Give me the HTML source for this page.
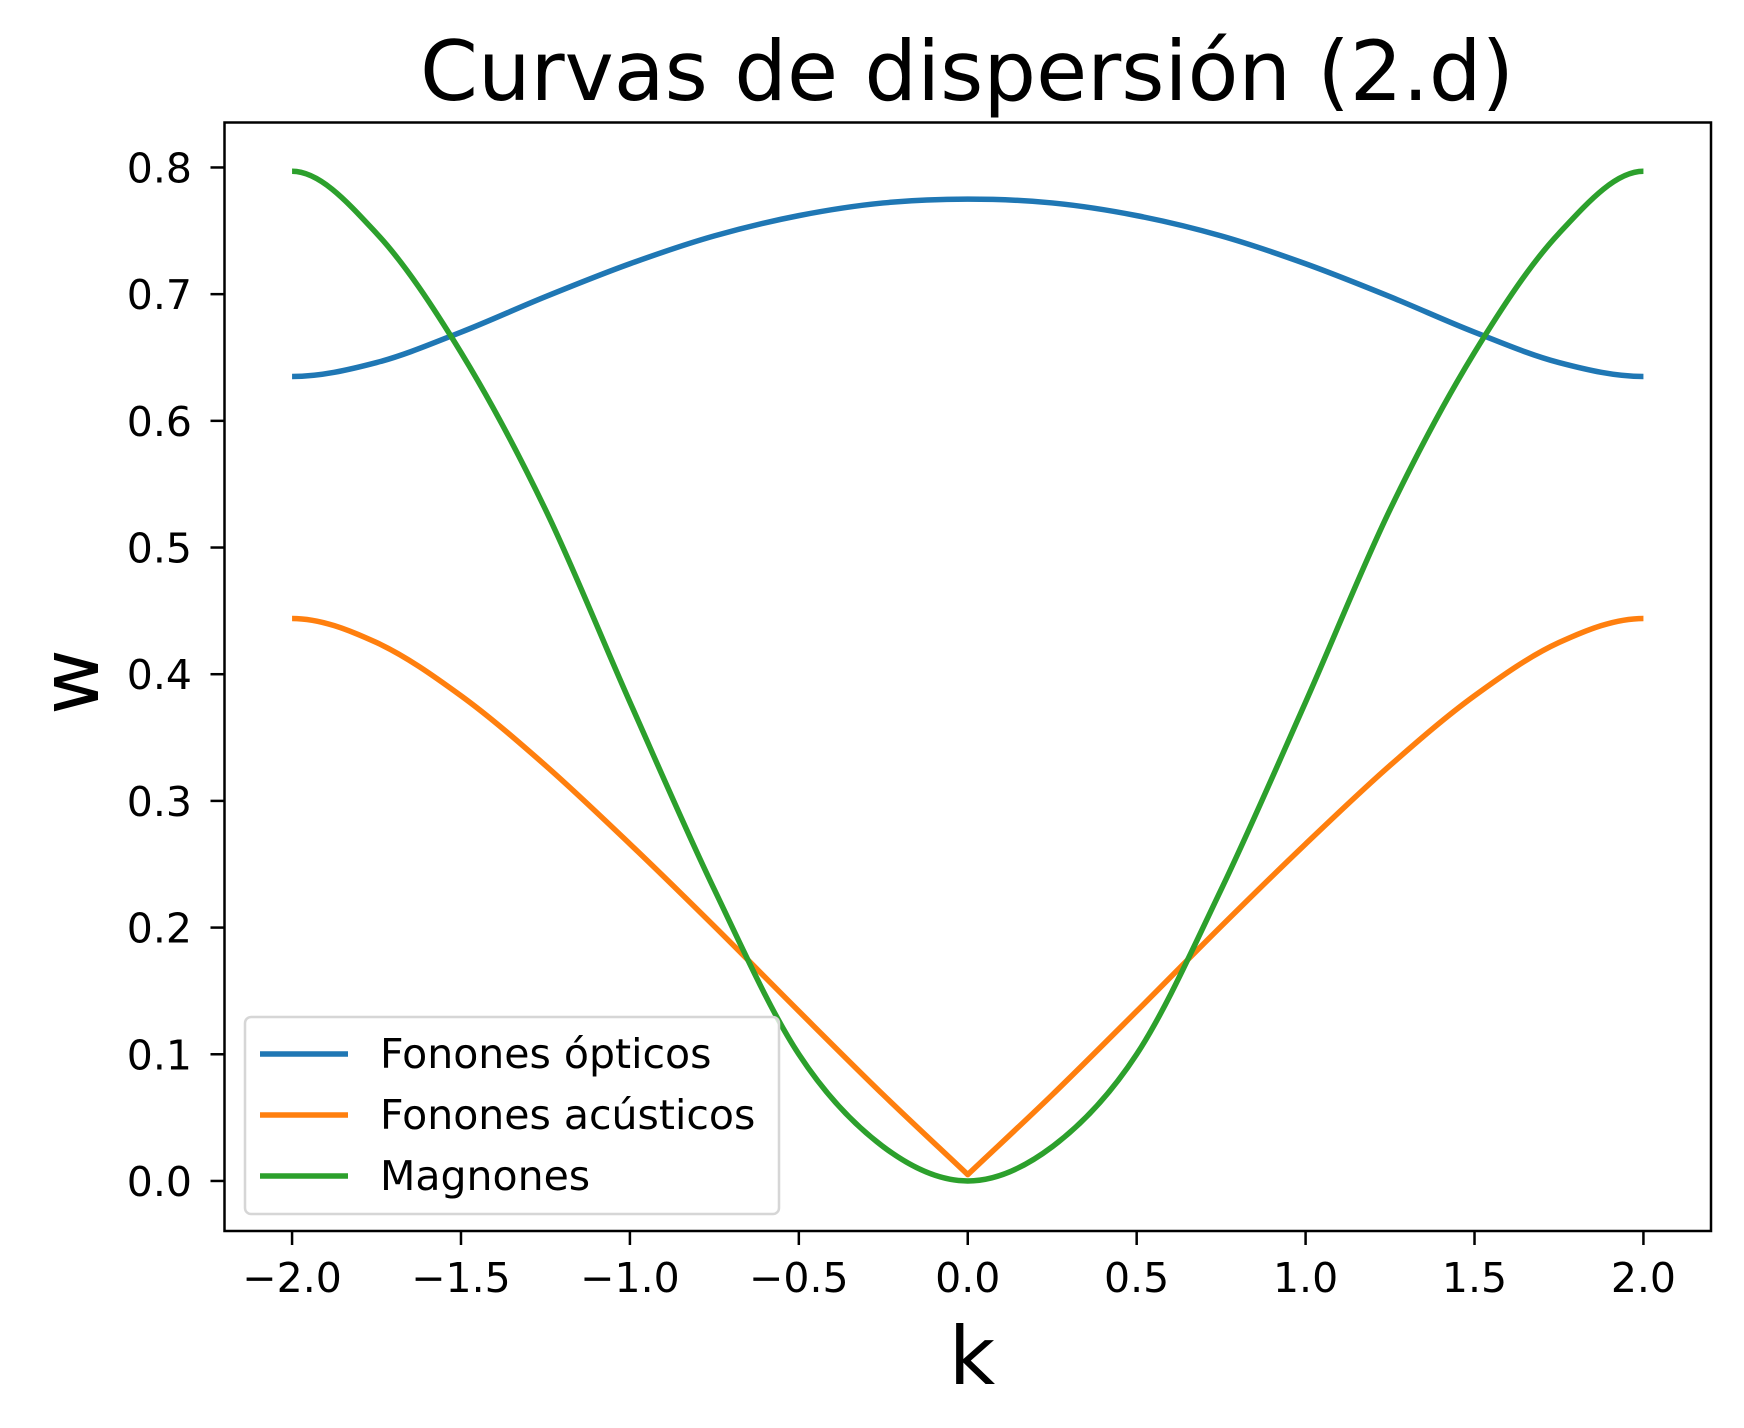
<!DOCTYPE html>
<html><head><meta charset="utf-8"><style>
html,body{margin:0;padding:0;background:#fff}
svg{display:block;font-family:"DejaVu Sans","Liberation Sans",sans-serif}
</style></head><body>
<svg id="chart" width="1744" height="1428" viewBox="0 0 1744 1428" xmlns="http://www.w3.org/2000/svg">
<rect x="0" y="0" width="1744" height="1428" fill="#fff"/>
<text x="967" y="100" font-size="83" text-anchor="middle">Curvas de dispersión (2.d)</text>
<g id="plot"></g>
<g id="xticks"></g>
<g id="yticks"></g>
<rect x="224.5" y="122.5" width="1486.5" height="1108.5" fill="none" stroke="#000" stroke-width="2.5"/>
<text x="972" y="1384" font-size="80" text-anchor="middle">k</text>
<text transform="translate(98,682) rotate(-90)" font-size="80" text-anchor="middle">w</text>
<g>
<rect x="245" y="1017" width="534" height="197" rx="6" fill="#fff" fill-opacity="0.8" stroke="#d6d6d6" stroke-width="2.5"/>
<line x1="260" y1="1054" x2="348" y2="1054" stroke="#1f77b4" stroke-width="5.5"/>
<text x="380" y="1068" font-size="41">Fonones ópticos</text>
<line x1="260" y1="1115" x2="348" y2="1115" stroke="#ff7f0e" stroke-width="5.5"/>
<text x="380" y="1129" font-size="41">Fonones acústicos</text>
<line x1="260" y1="1176" x2="348" y2="1176" stroke="#2ca02c" stroke-width="5.5"/>
<text x="380" y="1190" font-size="41">Magnones</text>
</g>
</svg>
<script>
const kValues = [-2,-1.75,-1.5,-1.25,-1,-0.75,-0.5,-0.25,0,0.25,0.5,0.75,1,1.25,1.5,1.75,2];
const opticalW = [0.635,0.646,0.670,0.698,0.724,0.746,0.762,0.772,0.775,0.772,0.762,0.746,0.724,0.698,0.670,0.646,0.635];
const acousticW = [0.444,0.425,0.383,0.328,0.266,0.201,0.134,0.068,0.005,0.068,0.134,0.201,0.266,0.328,0.383,0.425,0.444];
const magnonW = [0.797,0.748,0.654,0.530,0.378,0.230,0.100,0.027,0,0.027,0.100,0.230,0.378,0.530,0.654,0.748,0.797];
const xTickValues = [-2,-1.5,-1,-0.5,0,0.5,1,1.5,2];
const xTickLabels = ["\u22122.0","\u22121.5","\u22121.0","\u22120.5","0.0","0.5","1.0","1.5","2.0"];
const yTickValues = [0,0.1,0.2,0.3,0.4,0.5,0.6,0.7,0.8];
const yTickLabels = ["0.0","0.1","0.2","0.3","0.4","0.5","0.6","0.7","0.8"];

const NS = "http://www.w3.org/2000/svg";
const X0 = 224.5, X1 = 1711, Y0 = 1231, Y1 = 122.5;
const xMin = -2.2, xMax = 2.2, yMin = -0.0395, yMax = 0.8355;
function xs(v){ return X0 + (v - xMin) / (xMax - xMin) * (X1 - X0); }
function ys(v){ return Y0 - (v - yMin) / (yMax - yMin) * (Y0 - Y1); }

function smoothPath(xv, yv, flatStart, flatEnd, move){
  const p = xv.map((x,i)=>[xs(x), ys(yv[i])]);
  const n = p.length;
  const pre = flatStart ? [2*p[0][0]-p[1][0], p[1][1]] : [2*p[0][0]-p[1][0], 2*p[0][1]-p[1][1]];
  const post = flatEnd ? [2*p[n-1][0]-p[n-2][0], p[n-2][1]] : [2*p[n-1][0]-p[n-2][0], 2*p[n-1][1]-p[n-2][1]];
  const q = [pre].concat(p, [post]);
  let d = (move ? "M" : "L") + p[0][0] + "," + p[0][1];
  for (let i=1;i<q.length-2;i++){
    const a=q[i-1], b=q[i], c=q[i+1], e=q[i+2];
    const c1=[b[0]+(c[0]-a[0])/6, b[1]+(c[1]-a[1])/6];
    const c2=[c[0]-(e[0]-b[0])/6, c[1]-(e[1]-b[1])/6];
    d += " C"+c1[0]+","+c1[1]+" "+c2[0]+","+c2[1]+" "+c[0]+","+c[1];
  }
  return d;
}
function smoothHalf(xv, yv){
  const mid = xv.indexOf(0);
  return smoothPath(xv.slice(0,mid+1), yv.slice(0,mid+1), true, false, true) + " " +
         smoothPath(xv.slice(mid), yv.slice(mid), false, true, false);
}
const plot = document.getElementById("plot");
function addPath(d, color, name){
  const el = document.createElementNS(NS,"path");
  el.setAttribute("d", d);
  el.setAttribute("fill","none");
  el.setAttribute("stroke", color);
  el.setAttribute("stroke-width","5.5");
  el.setAttribute("stroke-linejoin","round");
  
  
  plot.appendChild(el);
}
addPath(smoothPath(kValues, opticalW, true, true, true), "#1f77b4", "optical-phonons-line");
addPath(smoothHalf(kValues, acousticW), "#ff7f0e", "acoustic-phonons-line");
addPath(smoothPath(kValues, magnonW, true, true, true), "#2ca02c", "magnons-line");

const xg = document.getElementById("xticks");
xTickValues.forEach((v,i)=>{
  const t = document.createElementNS(NS,"line");
  t.setAttribute("x1", xs(v)); t.setAttribute("x2", xs(v));
  t.setAttribute("y1", Y0); t.setAttribute("y2", Y0+14);
  t.setAttribute("stroke","#000"); t.setAttribute("stroke-width","2.5");
  
  
  xg.appendChild(t);
  const l = document.createElementNS(NS,"text");
  l.setAttribute("x", xs(v)); l.setAttribute("y", 1292);
  l.setAttribute("font-size","41"); l.setAttribute("text-anchor","middle");
  l.textContent = xTickLabels[i];
  
  
  xg.appendChild(l);
});
const yg = document.getElementById("yticks");
yTickValues.forEach((v,i)=>{
  const t = document.createElementNS(NS,"line");
  t.setAttribute("x1", X0-14); t.setAttribute("x2", X0);
  t.setAttribute("y1", ys(v)); t.setAttribute("y2", ys(v));
  t.setAttribute("stroke","#000"); t.setAttribute("stroke-width","2.5");
  
  
  yg.appendChild(t);
  const l = document.createElementNS(NS,"text");
  l.setAttribute("x", 192); l.setAttribute("y", ys(v)+15);
  l.setAttribute("font-size","41"); l.setAttribute("text-anchor","end");
  l.textContent = yTickLabels[i];
  
  
  yg.appendChild(l);
});
</script>
</body></html>
